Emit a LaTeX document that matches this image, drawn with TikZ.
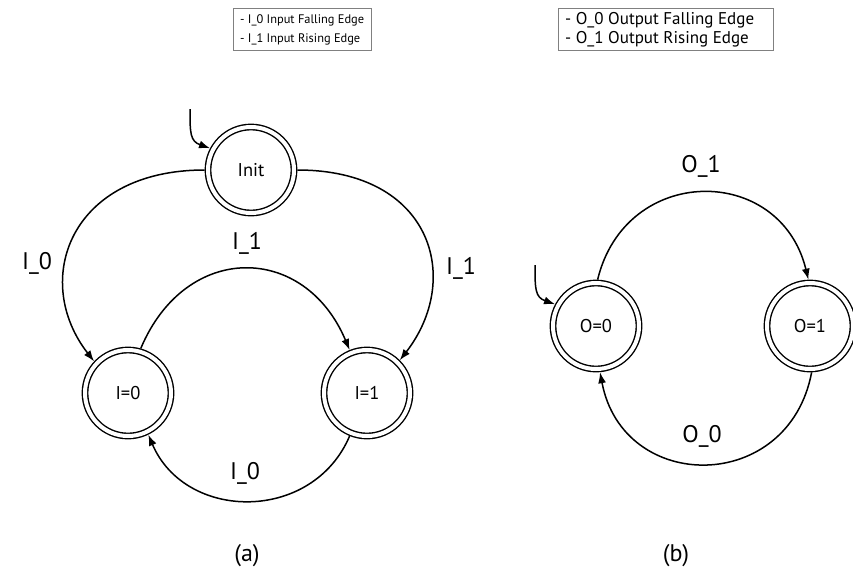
\documentclass[tikz,border=0pt]{standalone}
\usepackage{fontspec}
\setmainfont{PT Sans}
\usetikzlibrary{arrows.meta}
\begin{document}
\begin{tikzpicture}[x=1pt,y=-1pt,
  state/.style={circle,draw,double,double distance=4pt,line width=1.4pt,
    minimum size=86pt,inner sep=0pt,outer sep=3.4pt,
    font=\fontsize{18.5}{20}\selectfont},
  trans/.style={line width=1.5pt,-{Latex[length=11pt,width=8pt]}},
  elabel/.style={font=\fontsize{24}{28}\selectfont,anchor=base,inner sep=0pt},
  legendbox/.style={draw=black!50,line width=1.3pt,anchor=north west,
    inner sep=0pt,minimum height=42pt},
  legendtext/.style={anchor=west,align=left,inner sep=0pt,xshift=7pt}]
\useasboundingbox (0,0) rectangle (853,584);

% legends
\node[legendbox,minimum width=138pt] (legI) at (233,8) {};
\node[legendtext,font=\fontsize{12.4}{19}\selectfont] (legItext) at (legI.west)
  {- I\_0 Input Falling Edge\\- I\_1 Input Rising Edge};
\node[legendbox,minimum width=215pt] (legO) at (558,8) {};
\node[legendtext,font=\fontsize{17}{19}\selectfont] (legOtext) at (legO.west)
  {- O\_0 Output Falling Edge\\- O\_1 Output Rising Edge};

% (a) input automaton
\node[state] (init) at (251,170) {Init};
\node[state] (i0) at (128,393) {I=0};
\node[state] (i1) at (367,393) {I=1};
\coordinate (initstart) at (190,109);
\draw[trans] (initstart) .. controls +(0,24) and +(-20,-7) .. (init.152);
\draw[trans] (init.180) .. controls +(-135,0) and +(-63,-81) .. (i0.137);
\draw[trans] (init.0) .. controls +(135,0) and +(63,-81) .. (i1.45);
\draw[trans] (i0.74) .. controls +(45,-107) and +(-45,-107) .. (i1.112);
\draw[trans] (i1.248) .. controls +(-37,87) and +(37,87) .. (i0.296);
\node[elabel] (la1) at (37,269) {I\_0};
\node[elabel] (la2) at (461,274) {I\_1};
\node[elabel] (la3) at (247,249) {I\_1};
\node[elabel] (la4) at (245,479) {I\_0};
\node[elabel] (capa) at (247,561) {(a)};

% (b) output automaton
\node[state] (o0) at (596,326) {O=0};
\node[state] (o1) at (810,326) {O=1};
\coordinate (o0start) at (535,265);
\draw[trans] (o0start) .. controls +(0,24) and +(-20,-7) .. (o0.152);
\draw[trans] (o0.88) .. controls +(28,-116) and +(-28,-116) .. (o1.92);
\draw[trans] (o1.272) .. controls +(-23,122) and +(23,122) .. (o0.275);
\node[elabel] (lb1) at (701,172) {O\_1};
\node[elabel] (lb2) at (702,442) {O\_0};
\node[elabel] (capb) at (676,561) {(b)};
\end{tikzpicture}
\end{document}
